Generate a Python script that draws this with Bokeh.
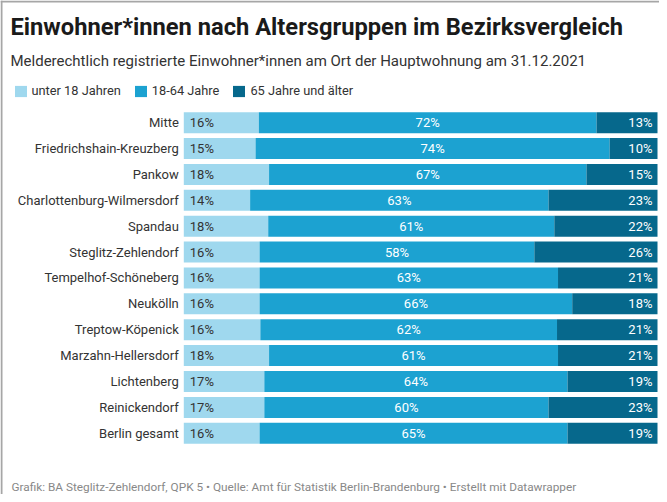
from bokeh.plotting import figure
from bokeh.models import Range1d, ColumnDataSource, Label, Span
from bokeh.core.properties import value
from bokeh.embed import file_html
from bokeh.resources import INLINE

districts = ["Mitte", "Friedrichshain-Kreuzberg", "Pankow", "Charlottenburg-Wilmersdorf",
             "Spandau", "Steglitz-Zehlendorf", "Tempelhof-Schöneberg", "Neukölln",
             "Treptow-Köpenick", "Marzahn-Hellersdorf", "Lichtenberg", "Reinickendorf",
             "Berlin gesamt"]
under18 = [16, 15, 18, 14, 18, 16, 16, 16, 16, 18, 17, 17, 16]
age18_64 = [72, 74, 67, 63, 61, 58, 63, 66, 62, 61, 64, 60, 65]
age65plus = [13, 10, 15, 23, 22, 26, 21, 18, 21, 21, 19, 23, 19]
series_names = ["unter 18 Jahren", "18-64 Jahre", "65 Jahre und älter"]

title = "Einwohner*innen nach Altersgruppen im Bezirksvergleich"
subtitle = "Melderechtlich registrierte Einwohner*innen am Ort der Hauptwohnung am 31.12.2021"
footer = "Grafik: BA Steglitz-Zehlendorf, QPK 5 • Quelle: Amt für Statistik Berlin-Brandenburg • Erstellt mit Datawrapper"

colors = ["#9fd8ee", "#1ca2d1", "#06688c"]
FONT = "Roboto"

W, H = 659, 494
bar_left_px, bar_w_px = 183.3, 473.7
row_px = 25.88
first_row_px = 122.2

idx = list(range(len(districts)))
tot = [a + b + c for a, b, c in zip(under18, age18_64, age65plus)]
s1 = [a / t for a, t in zip(under18, tot)]
s2 = [(a + b) / t for a, b, t in zip(under18, age18_64, tot)]

src = ColumnDataSource(dict(
    y=idx, name=districts,
    l0=[0.0] * len(idx), r0=s1, l1=s1, r1=s2, l2=s2, r2=[1.0] * len(idx),
    mid=[(a + b) / 2 for a, b in zip(s1, s2)],
    t0=[f"{v}%" for v in under18], t1=[f"{v}%" for v in age18_64], t2=[f"{v}%" for v in age65plus],
))

x0 = -bar_left_px / bar_w_px
x1 = (W - bar_left_px) / bar_w_px
y_top = -first_row_px / row_px
y_bot = y_top + H / row_px

p = figure(width=W, height=H, output_backend="svg", toolbar_location=None,
           x_range=Range1d(x0, x1), y_range=Range1d(y_bot, y_top),
           min_border=0, outline_line_color=None)
p.axis.visible = False
p.grid.visible = False
p.title.visible = False

bh = 21 / row_px
for i, (l, r) in enumerate([("l0", "r0"), ("l1", "r1"), ("l2", "r2")]):
    p.hbar(y="y", left=l, right=r, height=bh, source=src, color=colors[i],
           line_color=None, legend_label=series_names[i])

p.text(x=0, y="y", text="name", source=src, x_offset=-5, text_align="right",
       text_baseline="middle", text_font=value(FONT), text_font_size="13px", text_color="#333333")
p.text(x="l0", y="y", text="t0", source=src, x_offset=6, text_align="left",
       text_baseline="middle", text_font=value(FONT), text_font_size="13px", text_color="#333333")
p.text(x="mid", y="y", text="t1", source=src, text_align="center",
       text_baseline="middle", text_font=value(FONT), text_font_size="13px", text_color="#ffffff")
p.text(x="r2", y="y", text="t2", source=src, x_offset=-5, text_align="right",
       text_baseline="middle", text_font=value(FONT), text_font_size="13px", text_color="#ffffff")

p.add_layout(Label(x=10, y=H - 26, x_units="screen", y_units="screen", text=title,
                   text_font=FONT, text_font_size="23.7px", text_font_style="bold",
                   text_color="#1a1a1a", text_baseline="middle"))
p.add_layout(Label(x=10, y=H - 60, x_units="screen", y_units="screen", text=subtitle,
                   text_font=FONT, text_font_size="15px", text_color="#333333",
                   text_baseline="middle"))
p.add_layout(Label(x=11, y=H - 486, x_units="screen", y_units="screen", text=footer,
                   text_font=FONT, text_font_size="11.8px", text_color="#888888",
                   text_baseline="middle"))

# frame edge of the screenshot (top and left)
p.add_layout(Span(location=1, location_units="screen", dimension="height",
                  line_color="#a6a6a6", line_width=2))
p.add_layout(Span(location=H - 1, location_units="screen", dimension="width",
                  line_color="#a6a6a6", line_width=2))

lg = p.legend[0]
lg.orientation = "horizontal"
lg.location = (12.5, H - 98)
lg.glyph_width = 15
lg.glyph_height = 14
lg.label_standoff = 4
lg.spacing = 12
lg.padding = 0
lg.margin = 0
lg.border_line_color = None
lg.background_fill_alpha = 0
lg.label_text_font = FONT
lg.label_text_font_size = "12.8px"
lg.label_text_color = "#333333"

open("out.html", "w").write(file_html(p, INLINE))
